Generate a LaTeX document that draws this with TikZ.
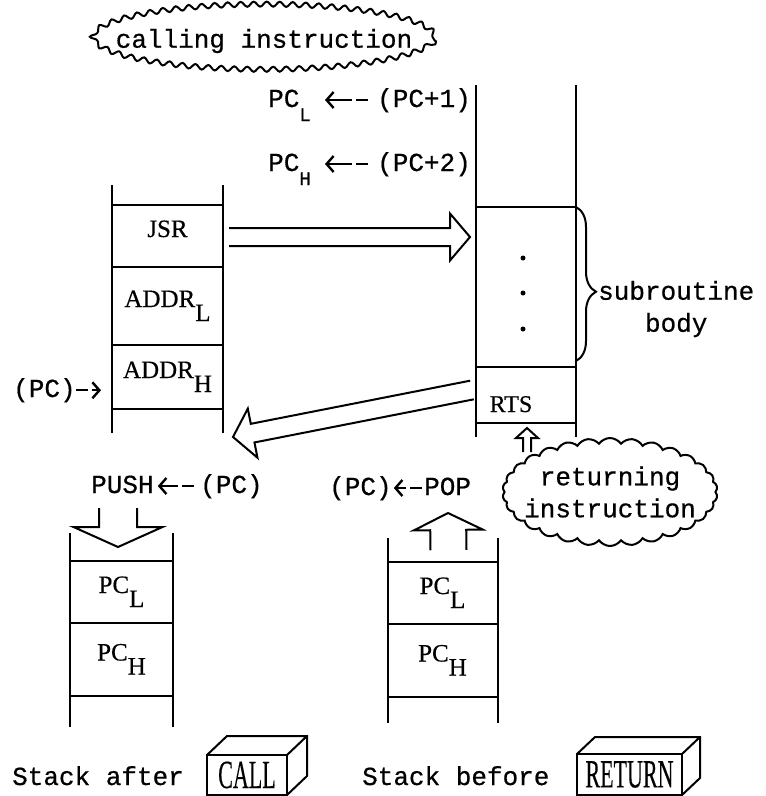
\documentclass[tikz,border=0pt]{standalone}
\usepackage{fontspec}
\setmainfont[FakeBold=0.6]{Liberation Mono}
\newfontfamily\cellfont[FakeBold=0.4]{Liberation Serif}
\usetikzlibrary{arrows.meta,positioning,calc,decorations.pathreplacing,decorations.pathmorphing,shapes.symbols,shapes.geometric}
\newcommand{\lo}[1]{\raisebox{-14pt}{#1}}
\newcommand{\keycap}[1]{\scalebox{0.55}[1]{#1}}
\newcommand{\hollowarrow}[5]{%
  \draw[harrow] let \p1=($(#2)-(#1)$), \n1={atan2(\y1,\x1)}, \n2={veclen(\x1,\y1)} in
    ($(#1)+(\n1+90:#3)$) -- ++(\n1:\n2-#5) -- ++(\n1+90:#4-#3) -- (#2)
    -- ($(#1)+(\n1:\n2-#5)+(\n1-90:#4)$) -- ++(\n1+90:#4-#3) -- ++(\n1+180:\n2-#5);}

\begin{document}
\begin{tikzpicture}[x=1pt, y=-1pt,
  wall/.style={line width=2pt},
  cell/.style={rectangle, draw, line width=2pt, outer sep=0pt, inner sep=0pt,
               text height=16pt, text depth=14pt, font=\cellfont\fontsize{25}{27}\selectfont},
  lbl/.style={inner sep=0pt, font=\fontsize{26}{32}\selectfont},
  ptr/.style={line width=2.4pt, -{Straight Barb[length=7pt,width=16pt]},
              dash pattern=on 12pt off 4pt on 60pt},
  harrow/.style={line width=2pt, line join=miter},
  thought/.style={cloud, draw, line width=2pt, fill=white, cloud ignores aspect},
  wavy/.style={ellipse, draw, line width=2pt, fill=white, decorate,
               decoration={snake, segment length=13pt, amplitude=2.5pt}},
  bodybrace/.style={decorate, decoration={brace, amplitude=20pt, aspect=0.55}, line width=2pt},
  chip/.style={draw, line width=2pt, inner sep=0pt, outer sep=0pt,
               font=\cellfont\fontsize{40}{40}\selectfont}
]
\useasboundingbox (0,0) rectangle (766,796);

\node[cell, minimum width=111pt, minimum height=62pt] (jsr) at (167.5,236) {JSR};
\node[cell, minimum width=111pt, minimum height=78pt, below=0pt of jsr] (addrl) {ADDR\lo{L}};
\node[cell, minimum width=111pt, minimum height=64pt, below=0pt of addrl] (addrh) {ADDR\lo{H}};
\draw[wall] (jsr.north west) -- ++(0,-20) (jsr.north east) -- ++(0,-20)
  (addrh.south west) -- ++(0,24) (addrh.south east) -- ++(0,24);

\node[cell, minimum width=100pt, minimum height=160pt] (body) at (526,287) {};
\node[cell, minimum width=100pt, minimum height=56pt, below=0pt of body] (rts) {};
\node[anchor=base, inner sep=0pt, font=\cellfont\fontsize{24}{24}\selectfont] (rtstxt)
  at ([xshift=-15pt, yshift=-17pt]rts.center) {RTS};
\draw[wall] (body.north west) -- ++(0,-122) (body.north east) -- ++(0,-122)
  (rts.south west) -- ++(0,14) (rts.south east) -- ++(0,14);
\foreach \yy in {258,293,329} \fill (523,\yy) circle (2.5pt);
\draw[bodybrace] (body.north east) -- ([yshift=6pt]body.south east);
\node[lbl, align=center, anchor=west] (subtxt) at (598,309) {subroutine\\body};

\node[lbl, anchor=base west] (pcl) at (268,107) {PC\lo{\fontsize{19}{19}\selectfont L}};
\node[lbl, anchor=base west] (pclsrc) at (377,107) {(PC+1)};
\node[lbl, anchor=base west] (pch) at (268,171) {PC\lo{\fontsize{19}{19}\selectfont H}};
\node[lbl, anchor=base west] (pchsrc) at (377,171) {(PC+2)};
\draw[ptr] ([xshift=-9pt, yshift=7pt]pclsrc.base west) -- ([xshift=14pt, yshift=7pt]pcl.base east);
\draw[ptr] ([xshift=-9pt, yshift=7pt]pchsrc.base west) -- ([xshift=14pt, yshift=7pt]pch.base east);

\node[lbl, anchor=base west] (pcnow) at (13,397) {(PC)};
\draw[ptr, shorten >=11pt] (pcnow.east) -- (pcnow.east -| addrh.west);

\coordinate (calltail) at ([xshift=6pt, yshift=-1pt]jsr.east);
\coordinate (callhead) at ([xshift=-6pt, yshift=-30pt]body.north west);
\hollowarrow{calltail}{callhead}{9pt}{23.5pt}{20pt}
\coordinate (rettail) at ([xshift=-4pt, yshift=5pt]rts.west);
\coordinate (rethead) at ([xshift=10pt, yshift=-28pt]addrh.south east);
\hollowarrow{rettail}{rethead}{9.5pt}{25pt}{20pt}

\node[lbl, anchor=base west] (push) at (91,493) {PUSH};
\node[lbl, anchor=base west] (pushsrc) at (200,493) {(PC)};
\draw[ptr] ([xshift=-6pt, yshift=7pt]pushsrc.base west) -- ([xshift=4pt, yshift=7pt]push.base east);
\node[lbl, anchor=base west] (popdst) at (329,495) {(PC)};
\node[lbl, anchor=base west] (pop) at (424,495) {POP};
\draw[ptr] ([xshift=-2pt, yshift=7pt]pop.base west) -- ([xshift=2pt, yshift=7pt]popdst.base east);

\node[cell, minimum width=103pt, minimum height=62pt] (pushl) at (121.5,592) {PC\lo{L}};
\node[cell, minimum width=103pt, minimum height=73pt, below=0pt of pushl] (pushh) {PC\lo{H}};
\draw[wall] (pushl.north west) -- ++(0,-28) (pushl.north east) -- ++(0,-28)
  (pushh.south west) -- ++(0,31) (pushh.south east) -- ++(0,31);
\node[cell, minimum width=110pt, minimum height=62pt] (popl) at (442.5,593) {PC\lo{L}};
\node[cell, minimum width=110pt, minimum height=73pt, below=0pt of popl] (poph) {PC\lo{H}};
\draw[wall] (popl.north west) -- ++(0,-24) (popl.north east) -- ++(0,-24)
  (poph.south west) -- ++(0,26) (poph.south east) -- ++(0,26);

\coordinate (pushtail) at (118,508);
\coordinate (pushhead) at ([xshift=-3.5pt, yshift=14pt]pushl.north);
\hollowarrow{pushtail}{pushhead}{19pt}{44.5pt}{20pt}
\coordinate (poptail) at ([xshift=6pt, yshift=12pt]popl.north);
\coordinate (pophead) at (448,513);
\hollowarrow{poptail}{pophead}{18pt}{34.5pt}{17pt}

\coordinate (retfoot) at (527,452);
\coordinate (retup) at ([xshift=1pt, yshift=-5pt]rts.south);
\hollowarrow{retfoot}{retup}{4pt}{11pt}{10pt}

\node[wavy, lbl, inner xsep=-30pt, minimum width=342pt, minimum height=66pt]
  (callcloud) at (264,41) {calling instruction};
\node[thought, lbl, align=center, cloud puffs=30, cloud puff arc=110, inner xsep=-25pt,
      minimum width=215pt, minimum height=108pt] (retcloud) at (610,492) {returning\\instruction};

\node[lbl, anchor=base west] (after) at (12,785) {Stack after};
\node[chip, minimum width=80pt, minimum height=40pt] (callkey) at (247,775) {\keycap{CALL}};
\draw[wall] (callkey.north west) -- ++(20,-19) -- ++(80,0) -- ++(0,40) -- (callkey.south east)
  (callkey.north east) -- ++(20,-19);
\node[lbl, anchor=base west] (before) at (362,785) {Stack before};
\node[chip, minimum width=105pt, minimum height=41pt] (retkey) at (629.5,774.5) {\keycap{RETURN}};
\draw[wall] (retkey.north west) -- ++(18,-17) -- ++(105,0) -- ++(0,41) -- (retkey.south east)
  (retkey.north east) -- ++(18,-17);
\end{tikzpicture}
\end{document}
